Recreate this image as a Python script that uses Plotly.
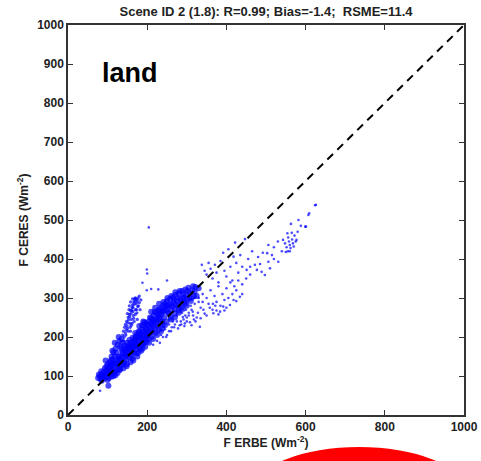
import plotly.graph_objects as go

# ---- data (F ERBE, F CERES in W m-2) ----
core_x = [76,80,82,85,88,90,92,95,96,98,100,102,100,85,78,93,102,
          104,106,108,110,112,114,116,118,120,122,124,126,128,130,110,115,120,125,105,112,118,128,130,107,
          132,134,136,138,140,142,144,146,148,150,152,154,156,158,160,135,142,150,155,140,148,158,132,145,153,
          162,164,166,168,170,172,174,176,178,180,182,184,186,188,190,192,194,196,198,200,165,175,185,195,170,180,190,163,178,188,198,192,172,182,167,
          202,204,206,208,210,212,214,216,218,220,222,224,226,228,230,232,234,236,238,240,205,215,225,235,210,220,230,245,238,
          242,245,248,250,252,255,258,260,262,265,268,270,272,275,278,280,283,286,288,290,293,296,298,300,304,308,312,316,320,325,330,270,280,290,300,310,260,
          84,89,97,103,109,113,117,121,127,131,137,139,143,147,149,151,157,159,161,163,169,171,173,177,179,181,183,187,189,191,193,197,199,
          201,203,207,209,211,213,217,219,221,223,227,229,231,233,237,239,241,243,247,249,251,253,257,259,261,263,267,269,271,273,277,279,
          282,285,287,291,295,297,302,306,314,318,322,160,170,180,190,200,210,220,230,240,250,
          110,115,120,125,130,118,128,135,108,100,95,112,122,132,138]
core_y = [95,100,92,105,98,110,102,96,115,108,100,118,90,88,104,120,75,
          112,122,105,130,118,108,135,125,112,140,130,118,145,135,98,100,102,108,135,142,150,125,115,128,
          150,140,128,158,148,135,165,155,142,170,160,148,178,165,152,170,178,185,192,120,125,135,118,150,172,
          185,172,160,195,182,168,205,190,175,212,198,182,220,205,190,228,212,196,235,218,140,150,165,175,210,228,240,198,160,170,200,185,178,190,175,
          205,240,225,210,248,232,215,255,238,222,262,245,228,268,250,235,275,258,240,280,185,195,205,215,265,275,285,230,222,
          265,285,270,292,275,260,298,282,268,302,288,272,308,292,278,312,298,285,318,302,290,322,308,295,326,312,300,330,316,305,325,250,262,272,280,292,245,
          112,93,125,95,115,128,110,132,150,142,162,132,172,160,130,178,170,185,160,145,188,200,158,200,215,170,208,230,180,200,238,222,188,
          230,195,250,220,200,245,228,265,210,240,255,218,270,245,265,230,290,250,278,240,300,262,285,250,305,278,295,260,315,283,300,268,
          318,292,275,310,300,285,318,300,320,305,328,175,192,200,215,210,235,245,258,268,280,
          150,160,170,180,190,185,200,195,140,130,140,165,160,175,185]

plume_x = [140,143,145,148,150,152,155,157,158,160,162,163,165,166,168,170,172,174,175,178,180,182,160,167,175,150,155,170,164,158,
           142,145,147,149,151,153,156,159,161,164,167,169,171,174,177,146,152,157,162,166,170,173,176,154,158,163,180,184,138,141]
plume_y = [215,225,232,240,222,250,258,235,268,245,275,282,255,290,298,270,285,262,295,280,288,270,230,240,245,260,280,300,265,215,
           200,210,218,228,236,244,252,260,268,276,284,292,298,290,300,205,215,225,235,248,258,270,278,270,290,298,305,295,205,190]

below_x = [215,225,232,240,250,260,245,255,235,268,275,282,292,305,298,265,
           262,270,278,286,294,300,308,316,322,328,335,342,350,358,366,372,288,296,312,320,330,340,255,248,275,283]
below_y = [180,190,185,200,205,215,220,232,205,225,240,230,245,262,270,240,
           225,232,222,232,228,250,238,255,240,262,248,270,255,275,285,280,262,255,270,285,300,290,215,200,255,270]

outlier_x = [204,199,200,188,199,210,250,228,81]
outlier_y = [481,373,363,339,320,323,345,322,62]

mid_x = [338,345,350,355,360,365,371,375,380,385,392,395,400,405,410,415,418,422,425,430,435,440,447,451,455,460,465,472,477,480,485,489,492,497,503,506,506,510,520,531,540,
         310,315,320,325,330,335,340,345,350,355,360,365,370,375,380,385,390,395,400,405,410,415,420,425,430,440,450,460,300,305,312,318,290,333,295,285,
         367,375,384,392,400,409,418,425,434,440,380,395]
mid_y = [385,370,360,390,375,350,385,365,340,395,416,370,355,425,380,345,406,442,390,365,410,380,451,372,400,380,420,385,372,405,387,367,416,359,415,393,436,376,400,393,420,
         280,265,300,250,290,275,310,260,300,285,320,270,305,290,330,280,310,295,325,300,340,310,330,320,345,335,350,360,240,255,230,245,251,226,235,240,
         261,268,265,278,275,282,295,292,303,310,258,268]

tail_x = [543,548,552,554,556,558,560,562,563,565,566,568,570,572,575,577,580,582,588,599,601,607,609,624,626,555,550,560,520,530,515]
tail_y = [449,440,430,466,455,445,436,428,490,467,450,440,432,460,445,449,470,500,485,483,483,513,517,538,539,420,418,420,430,445,410]

ref_x = [0, 1000]
ref_y = [0, 1000]

x_ticks = [0, 200, 400, 600, 800, 1000]
y_ticks = [0, 100, 200, 300, 400, 500, 600, 700, 800, 900, 1000]

title_text = "Scene ID 2 (1.8): R=0.99; Bias=-1.4;  RSME=11.4"
label_text = "land"

FONT = "Liberation Sans, Arial, sans-serif"
BLUE = "rgba(0,0,255,0.7)"

fig = go.Figure()
fig.add_trace(go.Scatter(x=core_x, y=core_y, mode="markers",
                         marker=dict(size=6, color=BLUE, line=dict(width=0)), showlegend=False))
fig.add_trace(go.Scatter(x=plume_x, y=plume_y, mode="markers",
                         marker=dict(size=3.3, color=BLUE, line=dict(width=0)), showlegend=False))
for xs, ys in [(below_x, below_y), (outlier_x, outlier_y), (mid_x, mid_y), (tail_x, tail_y)]:
    fig.add_trace(go.Scatter(x=xs, y=ys, mode="markers",
                             marker=dict(size=2.6, color=BLUE, line=dict(width=0)), showlegend=False))
fig.add_trace(go.Scatter(x=ref_x, y=ref_y, mode="lines",
                         line=dict(color="black", width=2, dash="8px,6px"), showlegend=False))

axis_common = dict(showgrid=False, zeroline=False, showline=True, linecolor="#333333", linewidth=1.5,
                   mirror="ticks", ticks="inside", ticklen=5, tickwidth=1.2, tickcolor="#333333",
                   tickfont=dict(family=FONT, size=12, color="#222222", weight="bold"),
                   range=[0, 1000], fixedrange=True, automargin=False)

fig.update_layout(
    width=481, height=461,
    margin=dict(l=68, r=17, t=25, b=46),
    paper_bgcolor="white", plot_bgcolor="white",
    font=dict(family=FONT),
    xaxis=dict(axis_common, tickvals=x_ticks, ticktext=[str(v) for v in x_ticks],
               title=dict(text="F ERBE (Wm<sup>-2</sup>)", standoff=3,
                          font=dict(family=FONT, size=12, color="#222222", weight="bold"))),
    yaxis=dict(axis_common, tickvals=y_ticks, ticktext=[str(v) for v in y_ticks],
               title=dict(text="F CERES (Wm<sup>-2</sup>)", standoff=6,
                          font=dict(family=FONT, size=12, color="#222222", weight="bold"))),
    title=dict(text=title_text, x=0.553, xanchor="center", y=0.975, yanchor="middle",
               font=dict(family=FONT, size=13, color="#222222", weight="bold")),
    annotations=[dict(text=label_text, x=81, y=877, xref="x", yref="y", xanchor="left", yanchor="middle",
                      showarrow=False, font=dict(family=FONT, size=27, color="black", weight="bold"))],
    shapes=[dict(type="circle", xref="paper", yref="paper", x0=0.475, x1=0.995, y0=-0.297, y1=-0.082,
                 fillcolor="red", line=dict(width=0), layer="above")],
)

fig.write_html("out.html")
